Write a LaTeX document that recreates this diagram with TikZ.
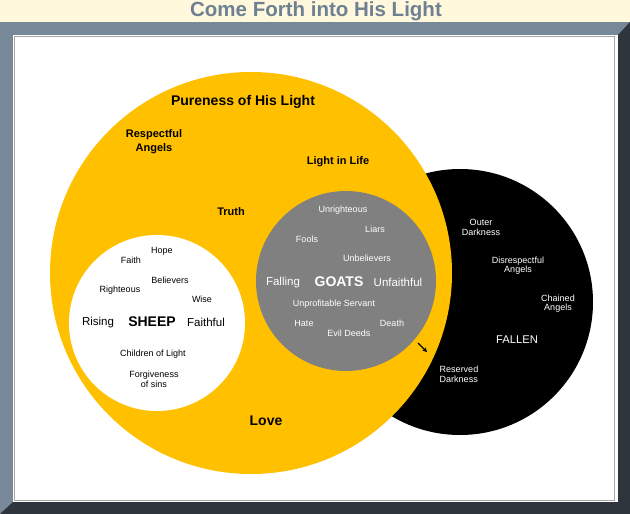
\documentclass[tikz,border=0pt]{standalone}
\usepackage{fontspec}
\setmainfont{Liberation Sans}
\usetikzlibrary{arrows.meta}
\definecolor{cGold}{HTML}{FFC000}
\definecolor{cGoat}{HTML}{808080}
\definecolor{cSlate}{HTML}{778899}
\definecolor{cDeep}{HTML}{2E353D}
\definecolor{cCream}{HTML}{FFF8DC}
\definecolor{cTitle}{HTML}{6E8094}

\begin{document}
\begin{tikzpicture}[x=1pt, y=-1pt,
  disc/.style={circle, inner sep=0pt, minimum size=#1},
  word/.style={inner sep=0pt, align=center, yshift=-1.5pt, font=\fontsize{9}{9.6}\selectfont},
  side/.style={inner sep=0pt, yshift=-1.5pt, font=\fontsize{11.5}{13}\selectfont},
  flock/.style={inner sep=0pt, yshift=-1.5pt, font=\fontsize{14}{16}\bfseries\selectfont},
  head/.style={inner sep=0pt, align=center, yshift=-1.5pt, font=\fontsize{11}{14}\bfseries\selectfont},
  arr/.style={-{Stealth[length=4.5pt, width=4.5pt]}, line width=1.3pt}]
\useasboundingbox (0,0) rectangle (630,514);

% page and frame
\fill[cCream] (0,0) rectangle (630,514);
\fill[cSlate] (0,22) rectangle (630,514);
\fill[cDeep] (630,22) -- (618,35) -- (618,502) -- (13,502) -- (0,514) -- (630,514) -- cycle;
\fill[white] (13,35) rectangle (618,502);
\draw[gray!70, line width=1pt] (14.5,36.5) rectangle (614,500);
\node[anchor=base, inner sep=0pt, text=cTitle, font=\fontsize{20.5}{22}\bfseries\selectfont] (title) at (316,16.5) {Come Forth into His Light};

% circles
\node[disc=266pt, fill=black] (fallen) at (460,302) {};
\node[disc=402pt, fill=cGold] (light) at (251,273) {};
\node[disc=180pt, fill=cGoat] (goats) at (346,281) {};
\node[disc=176pt, fill=white] (sheep) at (157,323) {};

% inside the light
\node[head, font=\fontsize{14}{16}\bfseries\selectfont] (pure) at (243,100) {Pureness of His Light};
\node[head] (resp) at (154,140) {Respectful\\Angels};
\node[head] (life) at (338,160) {Light in Life};
\node[head] (truth) at (231,210) {Truth};
\node[flock] (love) at (266,419) {Love};

% sheep
\node[word] (hope) at (162,250) {Hope};
\node[word] (faith) at (131,259) {Faith};
\node[word] (believ) at (170,279) {Believers};
\node[word] (right) at (120,289) {Righteous};
\node[word] (wise) at (202,298) {Wise};
\node[side] (rising) at (98,321) {Rising};
\node[flock] (sheepw) at (152,320) {SHEEP};
\node[side] (faithf) at (206,321) {Faithful};
\node[word] (child) at (153,353) {Children of Light};
\node[word] (forgive) at (154,378) {Forgiveness\\of sins};

% goats
\begin{scope}[every node/.append style={text=white}]
\node[word] (unright) at (343,209) {Unrighteous};
\node[word] (liars) at (375,228) {Liars};
\node[word] (fools) at (307,238) {Fools};
\node[word] (unbel) at (367,257) {Unbelievers};
\node[side] (falling) at (283,281) {Falling};
\node[flock] (goatsw) at (339,280) {GOATS};
\node[side] (unfaith) at (398,281) {Unfaithful};
\node[word] (unprof) at (334,303) {Unprofitable Servant};
\node[word] (hate) at (304,322) {Hate};
\node[word] (death) at (392,322) {Death};
\node[word] (evil) at (349,332) {Evil Deeds};

% fallen
\node[word] (outer) at (481,226) {Outer\\Darkness};
\node[word] (disresp) at (518,264) {Disrespectful\\Angels};
\node[word] (chained) at (558,302) {Chained\\Angels};
\node[side, font=\fontsize{11.2}{13}\selectfont] (fallenw) at (517,338) {FALLEN};
\node[word, align=left] (reserved) at (459,373) {Reserved\\Darkness};
\end{scope}

\coordinate (tipA) at (418,343);
\coordinate (tipB) at (427,352);
\draw[arr] (tipA) -- (tipB);
\end{tikzpicture}
\end{document}
